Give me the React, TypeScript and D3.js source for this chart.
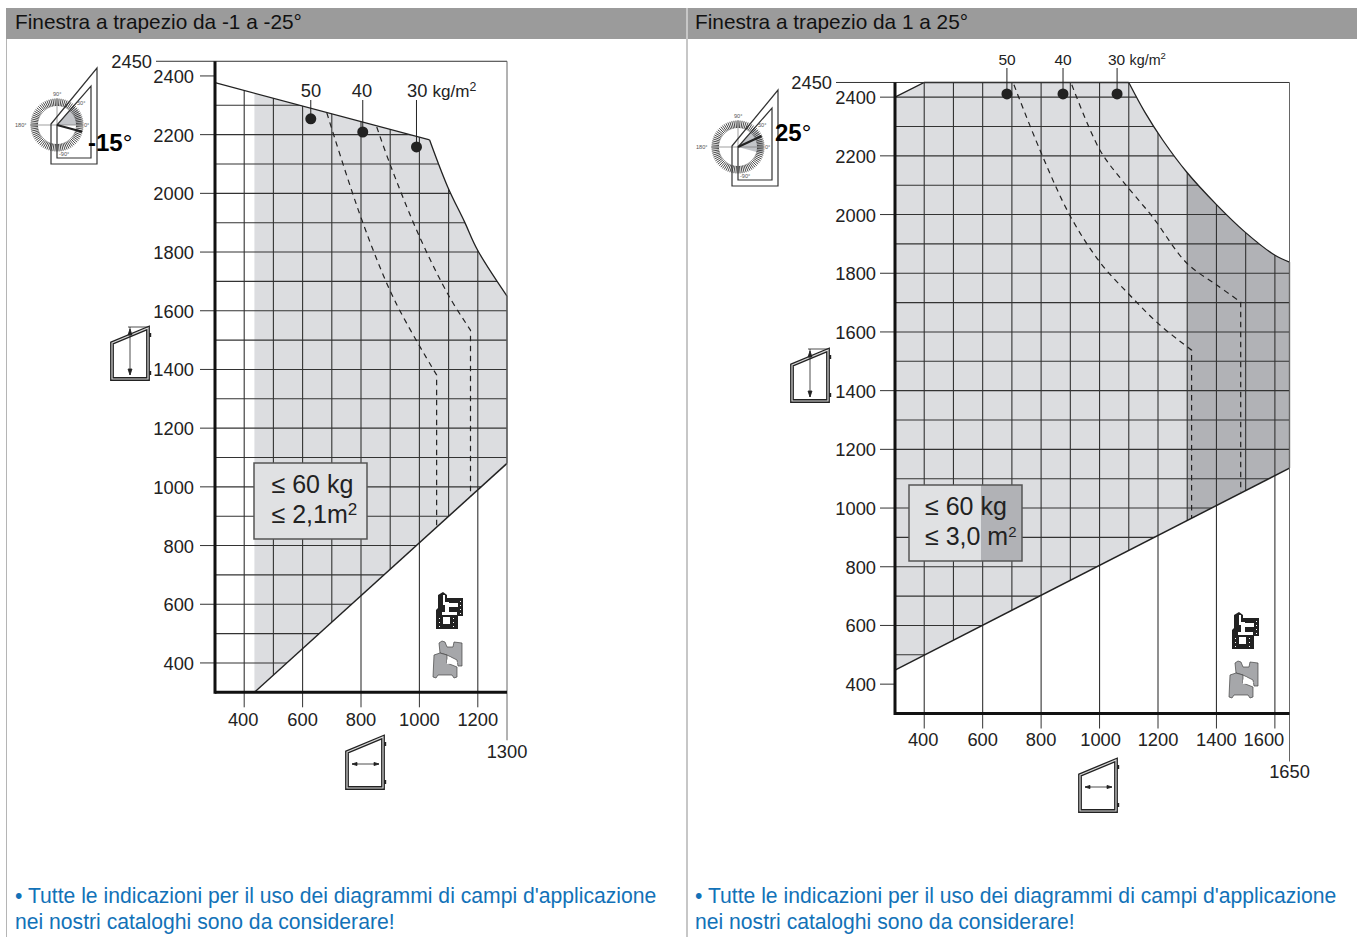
import React from 'react';
import * as d3 from 'd3';

type Pt = [number, number];

const FONT = '"Liberation Sans", Arial, sans-serif';
const LIGHT = '#dcdde0';
const DARK = '#b1b2b6';
const LINE = '#333';
const BLUE = '#1272b8';

// tick labels
const yLabels = [2400, 2200, 2000, 1800, 1600, 1400, 1200, 1000, 800, 600, 400];
const xLabelsLeft = [400, 600, 800, 1000, 1200];
const xLabelsRight = [400, 600, 800, 1000, 1200, 1400, 1600];
const gridY = [2400, 2300, 2200, 2100, 2000, 1900, 1800, 1700, 1600, 1500, 1400, 1300, 1200, 1100, 1000, 900, 800, 700, 600, 500, 400];
const gridXLeft = [400, 500, 600, 700, 800, 900, 1000, 1100, 1200];
const gridXRight = [400, 500, 600, 700, 800, 900, 1000, 1100, 1200, 1300, 1400, 1500, 1600];

// left chart, -1 to -25 degrees
const leftTop: Pt[] = [[300, 2377], [1035, 2182]];
const leftCurve: Pt[] = [[1035, 2182], [1097, 2022], [1155, 1902], [1199, 1807], [1300, 1650]];
const leftBottom: Pt[] = [[1300, 1080], [435, 300]];
const leftDash50: Pt[] = [[683, 2274], [803, 1909], [915, 1636], [1059, 1381], [1059, 863]];
const leftDash40: Pt[] = [[854, 2226], [898, 2103], [1001, 1851], [1103, 1647], [1175, 1534], [1175, 965]];
const leftDots: Pt[] = [[628, 2254], [806, 2209], [990, 2158]];

// right chart, 1 to 25 degrees
const rightTop: Pt[] = [[300, 2400], [400, 2450], [1100, 2450]];
const rightCurve: Pt[] = [[1100, 2450], [1155, 2349], [1216, 2254], [1298, 2145], [1401, 2033], [1497, 1941], [1599, 1862], [1650, 1838]];
const rightBottom: Pt[] = [[1650, 1136], [300, 448]];
const rightDash50: Pt[] = [[707, 2442], [796, 2220], [898, 1998], [1001, 1838], [1103, 1726], [1206, 1624], [1315, 1538], [1315, 966]];
const rightDash40: Pt[] = [[905, 2442], [1001, 2220], [1076, 2118], [1182, 1991], [1298, 1835], [1401, 1760], [1483, 1702], [1483, 1055]];
const rightDots: Pt[] = [[683, 2411], [875, 2411], [1060, 2411]];

const loads = ['50', '40', '30'];

function WindowIcon({ x, y, vertical }: { x: number; y: number; vertical: boolean }) {
  const outline = 'M0,16 L36,1 L36,52 L0,52 Z';
  return (
    <g transform={`translate(${x},${y})`} fill="none">
      <path d={outline} stroke="#222" strokeWidth={3.8} />
      <path d={outline} stroke="#d8d8d8" strokeWidth={1.2} />
      <rect x={37} y={6} width={2.2} height={4} fill="#222" />
      <rect x={37} y={44} width={2.2} height={4} fill="#222" />
      {vertical ? (
        <g stroke="#222" strokeWidth={0.8}>
          <path d="M16,0 L36,0 M18,0 L18,48" />
          <path d="M16,8 L18,2 L20,8 Z M16,42 L18,48 L20,42 Z" fill="#222" />
        </g>
      ) : (
        <g stroke="#222" strokeWidth={0.8}>
          <path d="M5,28 L32,28" />
          <path d="M10,26.4 L5,28 L10,29.6 Z M27,26.4 L32,28 L27,29.6 Z" fill="#222" />
        </g>
      )}
    </g>
  );
}

function ProfileIcon({ x, y }: { x: number; y: number }) {
  return (
    <g transform={`translate(${x},${y})`}>
      <path d="M3,3 L8,0 L12,3 L12,6 L28,6 L28,24 L23,24 L23,37 L1,37 L1,18 L3,16 Z" fill="#222" />
      <path d="M8,3 h2 v7 h4 v1 h9 v4 h-9 v5 h8 v3 h-15 v-3 h3 v-7 h-2 Z M8,25 h7 v7 h-7 Z" fill="#fff" />
      <path d="M4,26 h1 v1 h-1 Z M4,30 h1 v1 h-1 Z M4,34 h1 v1 h-1 Z M18,26 h1 v1 h-1 Z M18,30 h1 v1 h-1 Z M18,34 h1 v1 h-1 Z M25,9 h1 v1 h-1 Z M25,13 h1 v1 h-1 Z M25,17 h1 v1 h-1 Z M25,21 h1 v1 h-1 Z" fill="#fff" />
      <path
        d="M4,51 L7,49 L10,50 L12,55 L18,55 L19,50 L27,51 L27,74 L23,74 L22,68 L12,63 L5,61 Z"
        fill="#a6a7aa"
        stroke="#444"
        strokeWidth={0.7}
      />
      <path
        d="M-1,63 L5,61 L12,63 L12,71 L22,75 L22,85 L19,86 L17,83 L3,83 L1,86 L-2,85 Z"
        fill="#a6a7aa"
        stroke="#444"
        strokeWidth={0.7}
      />
      <path d="M12,68 L15,65 L18,68 L23,71 L12,72 Z" fill="#fff" />
    </g>
  );
}

function Protractor({ x, y, angle, from, label, labelX, labelY }: {
  x: number; y: number; angle: number; from: number; label: string; labelX: number; labelY: number;
}) {
  const rad = (d: number) => (d * Math.PI) / 180;
  const sector = d3.arc()({
    innerRadius: 0,
    outerRadius: 25,
    startAngle: rad(90 - 50),
    endAngle: rad(90 - from),
  }) as string;
  const small = { fontSize: 5.6, fill: '#555', fontFamily: FONT };
  return (
    <g transform={`translate(${x},${y})`}>
      <path d={sector} fill="#c3c5c9" />
      <g stroke="#333" strokeWidth={0.9}>
        {d3.range(0, 360, 4.5).map((d) => (
          <line
            key={d}
            x1={19 * Math.cos(rad(d))}
            y1={19 * Math.sin(rad(d))}
            x2={26.5 * Math.cos(rad(d))}
            y2={26.5 * Math.sin(rad(d))}
          />
        ))}
      </g>
      <path d="M-27,0 L26,0 M0,-27 L0,0" stroke="#777" strokeWidth={0.7} fill="none" />
      <path d="M-6,-1 L40,-57 L40,39 L-6,39 Z" fill="none" stroke="#333" strokeWidth={1.2} />
      <path d="M0,0 L34,-39 L34,33 L0,33 Z" fill="none" stroke="#333" strokeWidth={1.2} />
      <line x1={0} y1={0} x2={26 * Math.cos(rad(angle))} y2={-26 * Math.sin(rad(angle))} stroke="#222" strokeWidth={2.2} />
      <text x={-4} y={-29} {...small}>90°</text>
      <text x={20} y={-20} {...small}>50°</text>
      <text x={-42} y={2} {...small}>180°</text>
      <text x={27} y={2} {...small}>0°</text>
      <text x={2} y={31} {...small}>-90°</text>
      <text x={labelX} y={labelY} fontFamily={FONT} fontSize={24} fill="#000">
        <tspan fontWeight="bold">{label}</tspan>°
      </text>
    </g>
  );
}

function Chart({
  x0, xEnd, y300, xTicks, gridX, xMax, top, curve, bottom, dashes, dots, dotLabelX, labelY, labelSize, darkFrom,
  box, boxLines, boxDarkFrom, boxTextGap, yLabelGap, xLabelDy, xLabelShift,
}: {
  x0: number; xEnd: number; y300: number; xTicks: number[]; gridX: number[]; xMax: number;
  top: Pt[]; curve: Pt[]; bottom: Pt[]; dashes: Pt[][]; dots: Pt[]; dotLabelX: number[]; labelY: number; labelSize: number;
  darkFrom?: number; box: { x: number; y: number; w: number; h: number }; boxLines: React.ReactNode[]; boxDarkFrom?: number;
  boxTextGap: number; yLabelGap: number; xLabelDy: number; xLabelShift: Record<number, number>;
}) {
  const x = d3.scaleLinear().domain([300, xMax]).range([x0, xEnd]);
  const y = d3.scaleLinear().domain([300, 2450]).range([y300, y300 - 2150 * 0.2935]);
  const id = `c${x0}`;

  const line = d3.line<Pt>().x((d) => x(d[0])).y((d) => y(d[1]));
  const curved = d3.line<Pt>().x((d) => x(d[0])).y((d) => y(d[1])).curve(d3.curveCatmullRom.alpha(0.5));

  // the shaded field starts where the lower edge meets the axis
  const startX = bottom[bottom.length - 1][0];
  const startTop = top.length === 2
    ? top[0][1] + ((startX - top[0][0]) / (top[1][0] - top[0][0])) * (top[1][1] - top[0][1])
    : top[0][1];
  const fieldTop: Pt[] = startX > 300 ? [[startX, startTop], top[1]] : top;
  const tail = (curved(curve) as string).replace(/^M/, 'L');
  const bottomD = (line(bottom) as string).replace(/^M/, 'L');
  const field = `${line(fieldTop)}${tail}${bottomD}Z`;
  // grid reaches the axis on the left of the field
  const gridArea = `${line(top)}${tail}${bottomD}L${x(300)},${y(300)}Z`;
  const evenArea = `${line(top)}${tail}L${x(xMax)},${y(300)}L${x(300)},${y(300)}Z`;

  const yTop = y(2450);
  const yAxis = y(300);
  const curveEnd = curve[curve.length - 1];

  // dashed limit: a smooth run that ends in a straight drop
  const dashPath = (d: Pt[]) => {
    const last = d[d.length - 1];
    return `${curved(d.slice(0, -1))}L${x(last[0])},${y(last[1])}`;
  };

  return (
    <g fontFamily={FONT} fill="#222">
      <defs>
        <clipPath id={`${id}-field`}><path d={field} /></clipPath>
        <clipPath id={`${id}-grid`}><path d={gridArea} /></clipPath>
        <clipPath id={`${id}-even`}><path d={evenArea} /></clipPath>
      </defs>

      <path d={field} fill={LIGHT} />
      {darkFrom !== undefined && (
        <rect
          x={x(darkFrom)}
          y={yTop}
          width={x(xMax) - x(darkFrom)}
          height={yAxis - yTop}
          fill={DARK}
          clipPath={`url(#${id}-field)`}
        />
      )}

      <g stroke={LINE} strokeWidth={1.1}>
        <g clipPath={`url(#${id}-grid)`}>
          {gridY.map((v) => <line key={v} x1={x0} x2={xEnd} y1={y(v)} y2={y(v)} />)}
          {gridX.filter((v) => v % 200 !== 0).map((v) => <line key={v} x1={x(v)} x2={x(v)} y1={yTop} y2={yAxis} />)}
        </g>
        <g clipPath={`url(#${id}-even)`}>
          {gridX.filter((v) => v % 200 === 0).map((v) => <line key={v} x1={x(v)} x2={x(v)} y1={yTop} y2={yAxis} />)}
        </g>
      </g>

      <g fill="none" stroke="#222" strokeWidth={1.3}>
        <path d={line(top) as string} />
        <path d={curved(curve) as string} />
        <path d={line(bottom) as string} strokeWidth={1.5} />
        <line x1={x(curveEnd[0])} x2={x(curveEnd[0])} y1={y(curveEnd[1])} y2={y(bottom[0][1])} stroke="#444" />
      </g>

      {/* frame and ticks */}
      <g stroke={LINE} strokeWidth={1}>
        <line x1={x0 - 59} x2={xEnd} y1={yTop} y2={yTop} />
        <line x1={xEnd} x2={xEnd} y1={yTop} y2={yAxis + 48} stroke="#666" />
        {yLabels.map((v) => <line key={v} x1={x0 - 15} x2={x0} y1={y(v)} y2={y(v)} />)}
        {xTicks.map((v) => <line key={v} x1={x(v)} x2={x(v)} y1={yAxis} y2={yAxis + 15} />)}
      </g>
      <line x1={x0} x2={x0} y1={yTop} y2={yAxis + 1.5} stroke="#111" strokeWidth={3} />
      <line x1={x0} x2={xEnd} y1={yAxis} y2={yAxis} stroke="#111" strokeWidth={3} />

      <g fontSize={18.3} fill="#222">
        <text x={x0 - 63} y={yTop + 6.5} textAnchor="end">2450</text>
        {yLabels.map((v) => <text key={v} x={x0 - yLabelGap} y={y(v) + 7} textAnchor="end">{v}</text>)}
        {xTicks.map((v) => (
          <text key={v} x={x(v) + (xLabelShift[v] ?? 0)} y={yAxis + xLabelDy} textAnchor="middle">{v}</text>
        ))}
        <text x={xEnd} y={yAxis + xLabelDy + 32} textAnchor="middle">{xMax}</text>
      </g>

      {/* load limits */}
      <g fill="none" stroke="#222" strokeWidth={1.2} strokeDasharray="5.5 4.5">
        {dashes.map((d, i) => <path key={i} d={dashPath(d)} />)}
      </g>
      {dots.map((d, i) => (
        <g key={i}>
          <line x1={x(d[0])} x2={x(d[0])} y1={labelY + 3} y2={y(d[1])} stroke="#222" strokeWidth={1} />
          <circle cx={x(d[0])} cy={y(d[1])} r={5.5} fill="#222" />
          {i < 2 ? (
            <text x={dotLabelX[i]} y={labelY} fontSize={labelSize} textAnchor="middle">{loads[i]}</text>
          ) : (
            <text x={dotLabelX[i]} y={labelY} fontSize={labelSize}>
              {loads[i]} <tspan fontSize={labelSize - 1.2}>kg/m</tspan>
              <tspan fontSize={labelSize - 6} dy={-6}>2</tspan>
            </text>
          )}
        </g>
      ))}

      {/* limits box */}
      <rect x={box.x} y={box.y} width={box.w} height={box.h} fill="#e0e1e3" />
      {boxDarkFrom !== undefined && (
        <rect x={boxDarkFrom} y={box.y} width={box.x + box.w - boxDarkFrom} height={box.h} fill={DARK} />
      )}
      <rect x={box.x} y={box.y} width={box.w} height={box.h} fill="none" stroke="#555" strokeWidth={1.5} />
      <g fontSize={25} fill="#222">
        {boxLines.map((l, i) => (
          <text key={i} x={box.x + boxTextGap} y={box.y + 30 + i * 29.5}>{l}</text>
        ))}
      </g>
    </g>
  );
}

function Footnote({ x }: { x: number }) {
  return (
    <g fontFamily={FONT} fontSize={21.15} fill={BLUE}>
      <text x={x} y={902.5}>• Tutte le indicazioni per il uso dei diagrammi di campi d'applicazione</text>
      <text x={x} y={928.5}>nei nostri cataloghi sono da considerare!</text>
    </g>
  );
}

export default function App() {
  return (
    <svg
      width={1357}
      height={937}
      viewBox="0 0 1357 937"
      style={{ position: 'absolute', left: 0, top: 0, display: 'block', background: '#fff' }}
    >
      <rect x={6} y={8} width={680} height={31} fill="#9b9b9b" />
      <rect x={688} y={8} width={669} height={31} fill="#9b9b9b" />
      <line x1={6.5} x2={6.5} y1={39} y2={937} stroke="#b5b5b5" strokeWidth={1} />
      <line x1={687} x2={687} y1={8} y2={937} stroke="#b5b5b5" strokeWidth={1.5} />
      <g fontFamily={FONT} fontSize={20.8} fill="#111">
        <text x={15} y={29}>Finestra a trapezio da -1 a -25°</text>
        <text x={695} y={29}>Finestra a trapezio da 1 a 25°</text>
      </g>

      <Chart
        x0={215}
        xEnd={507}
        y300={692.3}
        xTicks={xLabelsLeft}
        gridX={gridXLeft}
        xMax={1300}
        top={leftTop}
        curve={leftCurve}
        bottom={leftBottom}
        dashes={[leftDash50, leftDash40]}
        dots={leftDots}
        dotLabelX={[311, 362, 407]}
        labelY={97}
        labelSize={18.3}
        box={{ x: 254, y: 463, w: 113, h: 76 }}
        boxLines={[<>≤ 60 kg</>, <>≤ 2,1m<tspan fontSize={17} dy={-8}>2</tspan></>]}
        boxTextGap={17.5}
        yLabelGap={21}
        xLabelDy={34}
        xLabelShift={{ 400: -1 }}
      />
      <Chart
        x0={895}
        xEnd={1289.5}
        y300={713.5}
        xTicks={xLabelsRight}
        gridX={gridXRight}
        xMax={1650}
        top={rightTop}
        curve={rightCurve}
        bottom={rightBottom}
        dashes={[rightDash50, rightDash40]}
        dots={rightDots}
        dotLabelX={[1007, 1063, 1108]}
        labelY={65}
        labelSize={15.5}
        darkFrom={1300}
        box={{ x: 909, y: 485, w: 113, h: 76 }}
        boxLines={[<>≤ 60 kg</>, <>≤ 3,0 m<tspan fontSize={15} dy={-8}>2</tspan></>]}
        boxDarkFrom={981}
        boxTextGap={16}
        yLabelGap={19}
        xLabelDy={32}
        xLabelShift={{ 400: -1, 1000: 1, 1600: -11 }}
      />

      <Protractor x={57} y={125} angle={-15} from={0} label="-15" labelX={31} labelY={26} />
      <Protractor x={738} y={147} angle={25} from={-15} label="25" labelX={37} labelY={-6} />

      <WindowIcon x={112} y={327} vertical />
      <WindowIcon x={792} y={349} vertical />
      <WindowIcon x={347} y={736} vertical={false} />
      <WindowIcon x={1080} y={759} vertical={false} />

      <ProfileIcon x={435} y={592} />
      <ProfileIcon x={1231} y={612} />

      <Footnote x={15} />
      <Footnote x={695} />
    </svg>
  );
}
